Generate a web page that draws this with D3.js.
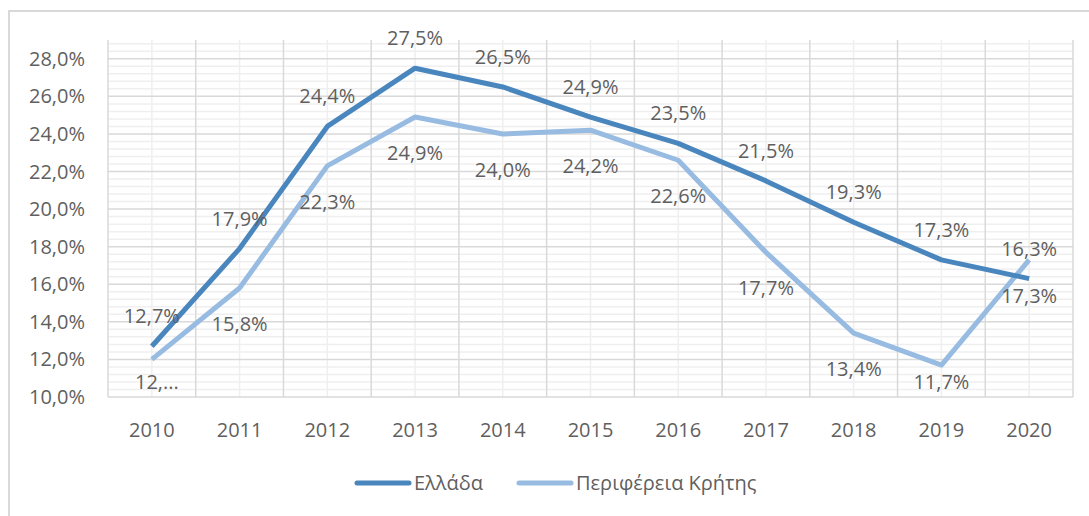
<!DOCTYPE html>
<html>
<head>
<meta charset="utf-8">
<script src="https://cdn.jsdelivr.net/npm/d3@7"></script>
<style>
body { margin: 0; background: #fff; }
#vis { width: 1089px; height: 516px; }
text { font-family: "Open Sans", sans-serif; fill: #5f5f5f; }
</style>
</head>
<body>
<div id="vis"></div>
<script>
var years = ['2010', '2011', '2012', '2013', '2014', '2015', '2016', '2017', '2018', '2019', '2020'];
var greece = [12.7, 17.9, 24.4, 27.5, 26.5, 24.9, 23.5, 21.5, 19.3, 17.3, 16.3];
var crete = [12.0, 15.8, 22.3, 24.9, 24.0, 24.2, 22.6, 17.7, 13.4, 11.7, 17.3];
var crete_labels = ['12,...', '15,8%', '22,3%', '24,9%', '24,0%', '24,2%', '22,6%', '17,7%', '13,4%', '11,7%', '17,3%'];
var y_ticks = [10, 12, 14, 16, 18, 20, 22, 24, 26, 28];
var series_names = ['Ελλάδα', 'Περιφέρεια Κρήτης'];
var colors = ['#4a86be', '#98bbe2'];

var width = 1089, height = 516;
var plot = { left: 108, right: 1073, top: 40, bottom: 397 };
var fsize = '20px';

var svg = d3.select('#vis').append('svg')
    .attr('width', width)
    .attr('height', height);

// chart border
svg.append('rect')
    .attr('x', 9).attr('y', 11)
    .attr('width', width + 20).attr('height', height + 20)
    .attr('fill', 'none')
    .attr('stroke', '#d9d9d9')
    .attr('stroke-width', 2);

var xscale = d3.scaleBand()
    .domain(years)
    .range([plot.left, plot.right]);

var yscale = d3.scaleLinear()
    .domain([10, 29])
    .range([plot.bottom, plot.top]);

function fmt(v) {
    return v.toFixed(1).replace('.', ',') + '%';
}

function cx(i) {
    return xscale(years[i]) + xscale.bandwidth() / 2;
}

var grid = svg.append('g');

// minor horizontal lines
var minor = d3.range(10.4, 29, 0.4).filter(function(v) {
    return Math.abs(v / 2 - Math.round(v / 2)) > 0.01;
});
grid.selectAll('.hminor').data(minor).enter().append('line')
    .attr('x1', plot.left).attr('x2', plot.right)
    .attr('y1', function(d) { return yscale(d); })
    .attr('y2', function(d) { return yscale(d); })
    .attr('stroke', '#efefef').attr('stroke-width', 1.5);

// minor vertical lines (category centres)
grid.selectAll('.vminor').data(years).enter().append('line')
    .attr('x1', function(d, i) { return cx(i); })
    .attr('x2', function(d, i) { return cx(i); })
    .attr('y1', plot.top).attr('y2', plot.bottom)
    .attr('stroke', '#efefef').attr('stroke-width', 1.5);

// major horizontal lines
grid.selectAll('.hmajor').data(y_ticks).enter().append('line')
    .attr('x1', plot.left).attr('x2', plot.right)
    .attr('y1', function(d) { return yscale(d); })
    .attr('y2', function(d) { return yscale(d); })
    .attr('stroke', '#d9d9d9').attr('stroke-width', 1.5);

// major vertical lines (category boundaries)
var bounds = years.map(function(d) { return xscale(d); }).concat([plot.right]);
grid.selectAll('.vmajor').data(bounds).enter().append('line')
    .attr('x1', function(d) { return d; })
    .attr('x2', function(d) { return d; })
    .attr('y1', plot.top).attr('y2', plot.bottom)
    .attr('stroke', '#d9d9d9').attr('stroke-width', 1.5);

// y axis labels
svg.selectAll('.ylab').data(y_ticks).enter().append('text')
    .attr('x', 85)
    .attr('y', function(d) { return yscale(d) + 7; })
    .attr('text-anchor', 'end')
    .style('font-size', fsize)
    .text(function(d) { return fmt(d); });

// x axis labels
svg.selectAll('.xlab').data(years).enter().append('text')
    .attr('x', function(d, i) { return cx(i); })
    .attr('y', 437)
    .attr('text-anchor', 'middle')
    .style('font-size', fsize)
    .text(function(d) { return d; });

var line = d3.line()
    .x(function(d, i) { return cx(i); })
    .y(function(d) { return yscale(d); });

[crete, greece].forEach(function(vals, k) {
    svg.append('path')
        .datum(vals)
        .attr('d', line)
        .attr('fill', 'none')
        .attr('stroke', k == 0 ? colors[1] : colors[0])
        .attr('stroke-width', 5)
        .attr('stroke-linejoin', 'round');
});

// data labels
svg.selectAll('.glab').data(greece).enter().append('text')
    .attr('x', function(d, i) { return cx(i); })
    .attr('y', function(d) { return yscale(d) - 23; })
    .attr('text-anchor', 'middle')
    .style('font-size', fsize)
    .text(function(d) { return fmt(d); });

// labels below the line, kept inside the plot area
svg.selectAll('.clab').data(crete).enter().append('text')
    .attr('x', function(d, i) { return cx(i) + (i == 0 ? 5 : 0); })
    .attr('y', function(d) { return Math.min(yscale(d) + 43, 389); })
    .attr('text-anchor', 'middle')
    .style('font-size', fsize)
    .text(function(d, i) { return crete_labels[i]; });

// legend
var legend = [{ x: 355, name: series_names[0], color: colors[0] },
              { x: 517, name: series_names[1], color: colors[1] }];
legend.forEach(function(l) {
    svg.append('line')
        .attr('x1', l.x + 2).attr('x2', l.x + 54)
        .attr('y1', 483).attr('y2', 483)
        .attr('stroke', l.color)
        .attr('stroke-width', 5)
        .attr('stroke-linecap', 'round');
    svg.append('text')
        .attr('x', l.x + 59)
        .attr('y', 490)
        .style('font-size', fsize)
        .text(l.name);
});
</script>
</body>
</html>
